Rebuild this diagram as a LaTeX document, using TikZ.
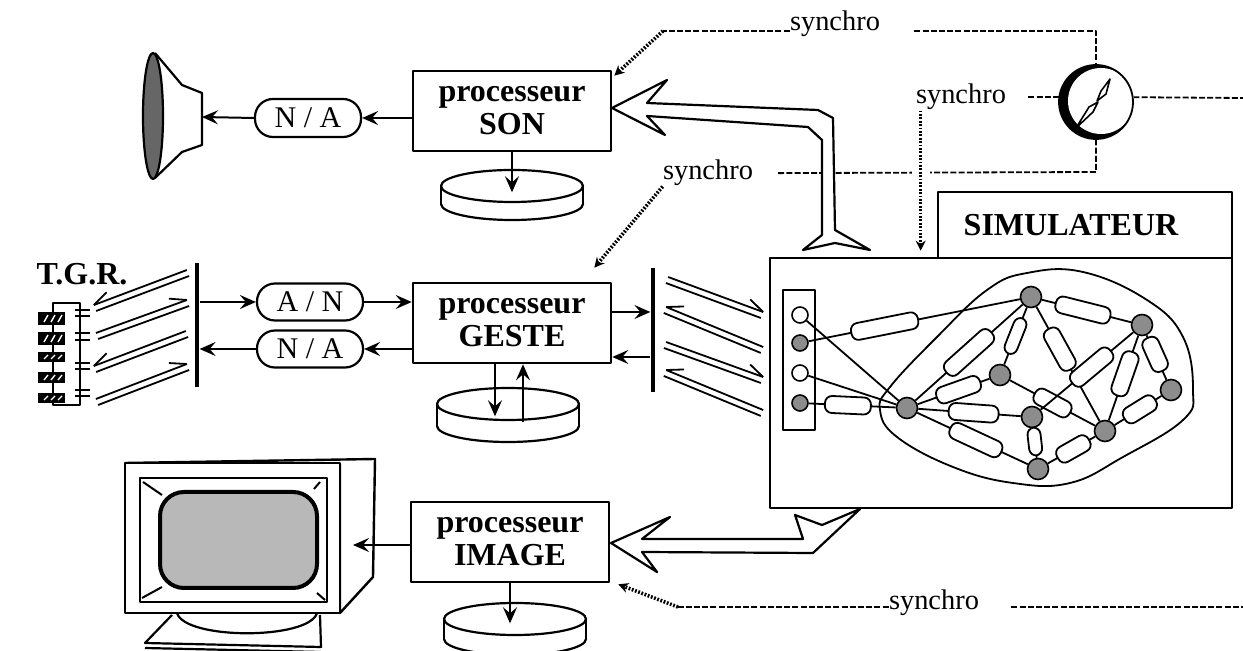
\documentclass[tikz,border=0pt]{standalone}
\usepackage{fontspec}
\setmainfont{Liberation Serif}
\usetikzlibrary{arrows.meta, calc}
\definecolor{ecran}{gray}{0.72}
\definecolor{masse}{gray}{0.55}

\begin{document}
\begin{tikzpicture}[x=0.5pt, y=-0.5pt, line join=round,
  proc/.style={draw, fill=white, line width=1.3pt, minimum width=99pt, minimum height=40pt,
    inner sep=0pt, align=center, font=\fontsize{16}{16.5}\selectfont\bfseries},
  conv/.style={draw, line width=1.1pt, rounded corners=9pt, minimum width=53pt,
    minimum height=19pt, inner sep=0pt, font=\fontsize{15}{15}\selectfont},
  sync/.style={inner sep=0pt, font=\fontsize{14.2}{14.2}\selectfont},
  syncline/.style={line width=.9pt, dash pattern=on 3pt off 1.1pt},
  syncarrow/.style={line width=1.8pt, dash pattern=on .9pt off .8pt, -{Stealth[length=5pt,width=5pt]}},
  link/.style={line width=1pt, -{Stealth[length=8pt,width=7pt,inset=3pt]}},
  bar/.style={fill, minimum width=2.2pt, inner sep=0pt},
  canal/.style={line width=.9pt},
  masse/.style={circle, draw, fill=masse, line width=.8pt, minimum size=10.5pt, inner sep=0pt},
  borne/.style={circle, draw, line width=.8pt, minimum size=8pt, inner sep=0pt},
  liaison/.style={draw, fill=white, line width=.9pt, rounded corners=3.5pt,
    minimum height=8.5pt, minimum width=#1, inner sep=0pt, sloped},
  liaison/.default=25pt]

\useasboundingbox (0,0) rectangle (1243,651);

% labels synchro and clock
\node[sync, anchor=base] (sy1) at (835,31) {synchro};
\node[sync, anchor=base] (sy2) at (961,104) {synchro};
\node[sync, anchor=base] (sy3) at (708,180) {synchro};
\node[sync, anchor=base] (sy4) at (934,610) {synchro};
\node[circle, minimum size=37pt, inner sep=0pt] (horloge) at (1096,102) {};

\node[proc] (son) at (512,111) {processeur\\SON};
\node[proc] (geste) at (512,323) {processeur\\GESTE};
\node[proc] (image) at (510,542) {processeur\\IMAGE};

\node[draw, line width=1.3pt, minimum width=231pt, minimum height=125pt] (sim) at (1001,383) {};
\node[draw, line width=1.3pt, minimum width=147pt, minimum height=33pt] (simtitre) at (1085,225) {};
\node[font=\fontsize{16}{16}\selectfont\bfseries] (simnom) at (1071,225) {SIMULATEUR};

\coordinate (k1) at (663,31);
\coordinate (k2) at (1096,31);
\coordinate (k3) at (1096,172);
\coordinate (k4) at (678,607);

% synchro lines
\draw[syncline] (sy1.base west) -- (k1);
\draw[syncarrow] (k1) -- ([shift={(1pt,-3pt)}]son.north east);
\draw[syncline] ([xshift=17pt]sy1.base east) -- (k2) -- (horloge.north);
\draw[syncline] ([xshift=11pt]sy2.east) -- (horloge.west |- sy2.east);
\draw[syncline] (horloge.east |- sy2.east) -- (1243,98);
\draw[syncline, shorten >=12pt] (horloge.south) -- (k3) -- (sy3.east);
\draw[syncarrow, preaction={draw=white, line width=9pt, solid, -}]
  ([xshift=2.5pt]sy2.south west) -- ([xshift=2.5pt,yshift=3pt]sy2.south west |- sim.north);
\draw[syncarrow] (sy3.south west) -- ([shift={(-9pt,7pt)}]geste.north east);
\draw[syncline] ([yshift=1.5pt]sy4.base west) -- (k4);
\draw[syncarrow] (k4) -- ([shift={(4pt,-0.5pt)}]image.south east);
\draw[syncline] ([xshift=16pt,yshift=1.5pt]sy4.base east) -- (1243,607);

% clock
\fill (horloge.center) circle (37);
\fill[white] ($(horloge.center)+(5,-1)$) circle (33);
\draw[line width=.9pt] (horloge.center) circle (37);
\draw[line width=.8pt, fill=white] (1097,101) -- (1101,91) -- (1110,79) -- (1106,94) -- cycle;
\draw[line width=.8pt, fill=white] (1098,102) -- (1089,107) -- (1076,128) -- (1093,112) -- cycle;

% hollow arrows to SON and IMAGE
\draw[line width=1.1pt, fill=white] (612,108) -- (667,80) -- (647,103) -- (818,110) -- (833,118)
  -- (835,230) -- (870,250) -- (835,243) -- (803,250) -- (822,235) -- (822,140) -- (808,127)
  -- (647,116) -- (665,135) -- cycle;
\draw[line width=1.1pt, fill=white] (611,543) -- (670,517) -- (642,539) -- (803,539) -- (795,515)
  -- (822,525) -- (860,509) -- (813,553) -- (642,552) -- (657,572) -- cycle;

% disks
\foreach \dx/\dy/\dh in {512/186/18, 508/404/22, 515/619/20} {
  \draw[line width=1.1pt, fill=white] (\dx,\dy+\dh) ellipse (71 and 16);
  \fill[white] (\dx-71,\dy) rectangle (\dx+71,\dy+\dh);
  \draw[line width=1.1pt] (\dx-71,\dy) -- ++(0,\dh) (\dx+71,\dy) -- ++(0,\dh);
  \draw[line width=1.1pt, fill=white] (\dx,\dy) ellipse (71 and 16);
}
\draw[link] (son.south) -- ++(0,40);
\draw[link] ([xshift=-8.5pt]geste.south) -- ++(0,52);
\draw[link] ([xshift=5.5pt]geste.south) ++(0,58) -- ([xshift=5.5pt]geste.south);
\draw[link] (image.south) -- ++(0,40);

% loudspeaker
\coordinate (hp) at (202,117);
\draw[line width=1.1pt, fill=white] (155,53) -- (182,85) -- (202,93) -- (202,145) -- (182,152) -- (155,178);
\draw[line width=1.1pt, fill=black!60] (153,116) ellipse (10 and 63);

\node[conv] (na1) at (308,118) {N / A};
\draw[link] (son.west |- na1.east) -- (na1.east);
\draw[link] (na1.west) -- (hp);

% keyboard T.G.R.
\node[anchor=base, inner sep=0pt, font=\fontsize{16}{16}\selectfont\bfseries] (tgr) at (82,285) {T.G.R.};
\draw[line width=1pt] (53,303) rectangle (80,405);
\foreach \ka/\kb in {312/325, 332/345, 352/362, 372/383, 393/403} {
  \fill (38,\ka) rectangle (65,\kb);
  \foreach \kx in {44,51,58}
    \draw[white, line width=.7pt] (\kx,\kb-3) -- (\kx+4,\ka+3);
}
\foreach \py in {310,316,333,340,363,369,390,396}
  \draw[line width=1pt] (75,\py) -- (90,\py);

\node[bar, minimum height=62pt] (barg) at (197,325) {};
\node[bar, minimum height=62pt] (bard) at (653,330) {};

% double channels with a one-sided barb at the end
\foreach \px/\py/\qx/\qy/\a/\s in {188/273/95/308/26/90, 97/336/188/303/-26/-90,
    187/334/95/369/26/90, 97/402/188/367/-26/-90,
    667/280/762/315/-26/-90, 762/350/665/310/26/90,
    665/345/762/380/-26/-90, 762/413/665/373/26/90} {
  \draw[canal] ($(\px,\py)!1.6pt!90:(\qx,\qy)$) -- ($(\qx,\qy)!1.6pt!-90:(\px,\py)$)
    ($(\px,\py)!1.6pt!-90:(\qx,\qy)$) -- ($(\qx,\qy)!1.6pt!90:(\px,\py)$);
  \coordinate (cb) at ($(\qx,\qy)!1.6pt!\s:(\px,\py)$);
  \draw[canal] (cb) -- ($(cb)!9pt!\a:(\px,\py)$);
}

\node[conv, minimum height=18.5pt] (an) at (310,302) {A / N};
\node[conv, minimum height=18.5pt] (na2) at (310,349) {N / A};
\draw[link] (barg.east |- an.west) -- (an.west);
\draw[link] (an.east) -- (geste.west |- an.east);
\draw[link] (geste.west |- na2.east) -- (na2.east);
\draw[link] (na2.west) -- (barg.east |- na2.west);

\draw[link] ([yshift=5.5pt]geste.east) -- ([yshift=5.5pt]geste.east -| bard.west);
\draw[link] ([yshift=-17pt]geste.east -| bard.west) -- ([yshift=-17pt]geste.east);

% monitor
\coordinate (mon) at (353,545);
\draw[line width=1.1pt, fill=white] (172,615) -- (145,643) -- (321,647) -- (320,615);
\draw[line width=1.1pt] (145,648) -- (321,652);
\draw[line width=1.1pt, fill=white] (177,613) .. controls (185,640) and (309,640) .. (317,613);
\draw[line width=1.2pt, fill=white] (125,463) -- (375,459) -- (373,577) -- (340,613) -- (340,464);
\draw[line width=1.2pt, fill=white] (125,463) rectangle (340,613);
\draw[line width=1.1pt] (140,478) rectangle (327,602);
\draw[line width=2pt, fill=ecran, rounded corners=12pt] (160,492) rectangle (317,588);
\draw[line width=1pt] (143,482) -- (162,495) (320,482) -- (314,489) (142,598) -- (162,587) (317,593) -- (325,600);
\draw[link] (image.west |- mon) -- (mon);

% simulator: input panel and network
\draw[line width=1pt] (783,290) rectangle (815,430);
\node[borne, fill=white] (b1) at (800,315) {};
\node[borne, fill=masse] (b2) at (800,343) {};
\node[borne, fill=white] (b3) at (800,373) {};
\node[borne, fill=masse] (b4) at (800,403) {};

\draw[line width=.9pt] plot[smooth cycle, tension=.7] coordinates {(1027,273) (1083,272) (1147,300)
  (1183,337) (1193,390) (1183,420) (1123,457) (1070,483) (1013,483) (953,467) (897,437) (880,410)
  (890,387) (937,337) (987,290)};

\node[masse] (m1) at (907,408) {};
\node[masse] (m2) at (1031,297) {};
\node[masse] (m3) at (1142,325) {};
\node[masse] (m4) at (1000,375) {};
\node[masse] (m5) at (1171,390) {};
\node[masse] (m6) at (1032,417) {};
\node[masse] (m7) at (1105,431) {};
\node[masse] (m8) at (1038,469) {};

\begin{scope}[line width=.9pt]
\draw (b1) -- (m1);
\draw (b3) -- (m1);
\draw (b2) -- node[liaison=34pt, pos=.36] {} (m2);
\draw (b4) -- node[liaison=23pt, pos=.45] {} (m1);
\draw (m1) -- node[liaison=30pt] {} (m2);
\draw (m1) -- node[liaison=23pt, pos=.57] {} (m4);
\draw (m1) -- node[liaison=25pt, pos=.54] {} (m6);
\draw (m1) -- node[liaison=28pt, pos=.53] {} (m8);
\draw (m4) -- node[liaison=19pt, minimum height=6.5pt] {} (m2);
\draw (m2) -- node[liaison=28pt, pos=.46] {} (m3);
\draw (m2) -- node[liaison=23pt, pos=.37] {} (m7);
\draw (m4) -- node[liaison=20pt] {} (m7);
\draw (m3) -- node[liaison=25pt, pos=.45] {} (m6);
\draw (m3) -- node[liaison=23pt, pos=.45] {} (m7);
\draw (m3) -- node[liaison=18pt, pos=.43] {} (m5);
\draw (m7) -- node[liaison=18pt, pos=.54] {} (m5);
\draw (m6) -- node[liaison=14pt, minimum height=6.5pt, pos=.45] {} (m8);
\draw (m8) -- node[liaison=18pt, pos=.54] {} (m7);
\end{scope}

\end{tikzpicture}
\end{document}
